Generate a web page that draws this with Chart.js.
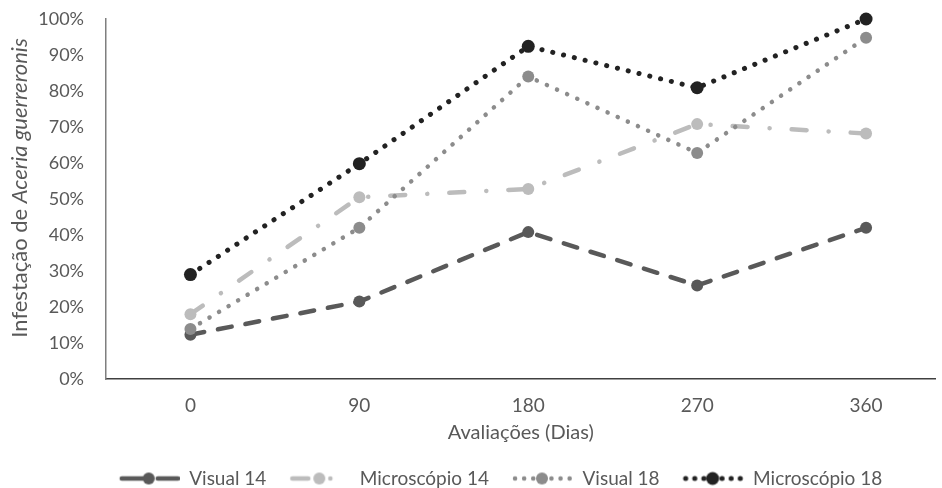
<!DOCTYPE html>
<html>
<head>
<meta charset="utf-8">
<script src="https://cdn.jsdelivr.net/npm/chart.js@4.4.1/dist/chart.umd.min.js"></script>
<style>
  html, body { margin: 0; padding: 0; background: #fff; overflow: hidden; }
  #wrap { width: 942px; height: 488px; position: relative; }
</style>
</head>
<body>
<div id="wrap"><canvas id="chart"></canvas></div>
<script>
// data (percent)
const days = [0, 90, 180, 270, 360];
const visual14 = [12.3, 21.5, 40.8, 26.0, 42.0];
const micro14 = [18.0, 50.5, 52.8, 70.8, 68.2];
const visual18 = [13.9, 42.0, 84.0, 62.8, 94.8];
const micro18 = [29.0, 59.8, 92.4, 80.9, 100.0];
const seriesNames = ['Visual 14', 'Microscópio 14', 'Visual 18', 'Microscópio 18'];

const FONT = 'Lato, "DejaVu Sans Condensed", sans-serif';
const TEXT = '#595959';

const styles = [
  { color: '#595959', dash: [14, 14], icon: [22, 14], width: 4.5, radius: 6 },
  { color: '#bcbcbc', dash: [15, 22, 0.1, 22], icon: [16, 22, 0.1, 40], width: 4.5, radius: 6 },
  { color: '#8c8c8c', dash: [0.1, 11], icon: [0.1, 9], width: 4.5, radius: 6 },
  { color: '#222222', dash: [0.1, 11], icon: [0.1, 9], width: 5, radius: 6.5 }
];

function legendIcon(st) {
  const c = document.createElement('canvas');
  c.width = 62; c.height = 16;
  const g = c.getContext('2d');
  g.strokeStyle = st.color;
  g.lineWidth = st.width;
  g.lineCap = 'round';
  g.setLineDash(st.icon);
  g.beginPath();
  g.moveTo(4, 8); g.lineTo(60, 8);
  g.stroke();
  g.setLineDash([]);
  g.fillStyle = st.color;
  g.beginPath();
  g.arc(31, 8, st.radius, 0, Math.PI * 2);
  g.fill();
  return c;
}

const allSeries = [visual14, micro14, visual18, micro18];
const datasets = allSeries.map((vals, i) => ({
  label: seriesNames[i],
  data: days.map((d, j) => ({ x: d, y: vals[j] })),
  borderColor: styles[i].color,
  backgroundColor: styles[i].color,
  borderWidth: styles[i].width,
  borderDash: styles[i].dash,
  borderCapStyle: 'round',
  pointRadius: styles[i].radius,
  pointHoverRadius: styles[i].radius,
  pointBorderWidth: 0,
  tension: 0,
  clip: false,
  order: 4 - i
}));

// y title with italic species name
const yTitle = {
  id: 'yTitle',
  afterDraw(chart) {
    const ctx = chart.ctx;
    const p1 = 'Infestação de ';
    const p2 = 'Aceria guerreronis';
    ctx.save();
    ctx.fillStyle = TEXT;
    ctx.textBaseline = 'middle';
    ctx.font = '22px ' + FONT;
    const w1 = ctx.measureText(p1).width;
    ctx.font = 'italic 22px ' + FONT;
    const w2 = ctx.measureText(p2).width;
    ctx.translate(20, 188);
    ctx.rotate(-Math.PI / 2);
    const x0 = -(w1 + w2) / 2;
    ctx.font = '22px ' + FONT;
    ctx.fillText(p1, x0, 0);
    ctx.font = 'italic 22px ' + FONT;
    ctx.fillText(p2, x0 + w1, 0);
    ctx.restore();
  }
};

// nudge the legend to the right like the original
const legendShift = {
  id: 'legendShift',
  afterLayout(chart) {
    chart.legend.left += 30;
    chart.legend.right += 30;
  }
};

new Chart(document.getElementById('chart'), {
  type: 'line',
  data: { datasets },
  options: {
    responsive: true,
    maintainAspectRatio: false,
    animation: false,
    layout: { padding: { top: 19, right: 2, bottom: -10, left: 0 } },
    plugins: {
      tooltip: { enabled: false },
      legend: {
        position: 'bottom',
        labels: {
          color: TEXT,
          font: { family: FONT, size: 19 },
          usePointStyle: true,
          pointStyleWidth: 62,
          padding: 22,
          generateLabels: chart => chart.data.datasets.map((ds, i) => ({
            text: ds.label,
            pointStyle: legendIcon(styles[i]),
            fillStyle: ds.borderColor,
            strokeStyle: ds.borderColor,
            lineWidth: 0,
            fontColor: TEXT,
            datasetIndex: i,
            hidden: false
          }))
        }
      }
    },
    scales: {
      x: {
        type: 'linear',
        min: -45,
        max: 397,
        afterBuildTicks: s => { s.ticks = days.map(v => ({ value: v })); },
        afterFit: s => { s.height = 68; s.paddingLeft = 0; s.paddingRight = 0; },
        grid: { display: false, drawTicks: false },
        border: { display: true, color: '#404040', width: 1.5 },
        ticks: { color: TEXT, font: { family: FONT, size: 19 }, padding: 15, maxRotation: 0 },
        title: { display: true, text: 'Avaliações (Dias)', color: TEXT, font: { family: FONT, size: 20 }, padding: { top: 0, bottom: 2 } }
      },
      y: {
        min: 0,
        max: 100,
        afterFit: s => { s.width = 106; s.paddingTop = 0; s.paddingBottom = 0; },
        grid: { display: false, drawTicks: false },
        border: { display: true, color: '#7f7f7f', width: 1.5 },
        ticks: { stepSize: 10, color: TEXT, font: { family: FONT, size: 18 }, padding: 22, callback: v => v + '%' }
      }
    }
  },
  plugins: [yTitle, legendShift]
});
</script>
</body>
</html>
